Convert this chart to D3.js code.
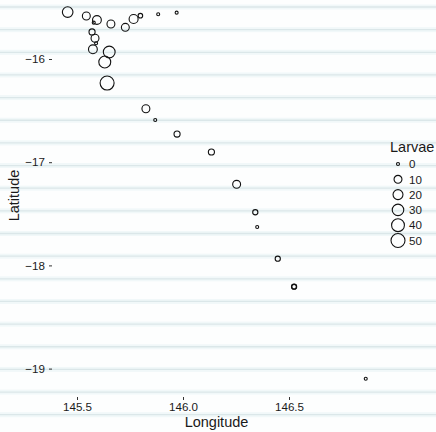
<!DOCTYPE html>
<html>
<head>
<meta charset="utf-8">
<script src="https://cdn.jsdelivr.net/npm/d3@7"></script>
<style>
  body { margin: 0; background: #fdfefe; }
  text { font-family: "Liberation Sans", Arial, sans-serif; }
</style>
</head>
<body>
<div id="chart"></div>
<script>
// station positions and larvae counts
const longitude = [145.456, 145.544, 145.594, 145.579, 145.660, 145.728, 145.767, 145.799, 145.883, 145.970,
                   145.571, 145.585, 145.590, 145.575, 145.652, 145.631, 145.642, 145.825, 145.869, 145.972,
                   146.134, 146.253, 146.341, 146.350, 146.447, 146.524, 146.524, 146.862];
const latitude  = [-15.545, -15.583, -15.622, -15.648, -15.661, -15.693, -15.612, -15.580, -15.567, -15.551,
                   -15.738, -15.799, -15.848, -15.906, -15.932, -16.029, -16.233, -16.482, -16.591, -16.727,
                   -16.901, -17.214, -17.485, -17.628, -17.935, -18.206, -18.206, -19.098];
const larvae    = [24, 10, 14, 0, 10, 10, 15, 1, 0, 0,
                   4, 10, 0, 14, 32, 33, 50, 10, 0, 4,
                   4, 10, 2, 0, 2, 2, 1, 0];

const xTicks = [145.5, 146.0, 146.5];
const yTicks = [-16, -17, -18, -19];
const legendValues = [0, 10, 20, 30, 40, 50];

const data = longitude.map((lon, i) => ({ lon, lat: latitude[i], n: larvae[i] }));

const width = 436, height = 432;
const ink = "#1a1a1a";
const svg = d3.select("#chart").append("svg")
    .attr("width", width)
    .attr("height", height);

// ---- notebook-like stripes over the whole picture ----
const stripes = d3.range(7, height, 22.65);
svg.selectAll(".band")
    .data(stripes)
    .join("rect")
    .attr("x", 0).attr("width", width)
    .attr("y", d => d - 2.5).attr("height", 5)
    .attr("fill", "#f1f8f9");
svg.selectAll(".stripe")
    .data(stripes)
    .join("line")
    .attr("x1", 0).attr("x2", width)
    .attr("y1", d => d).attr("y2", d => d)
    .attr("stroke", "#dbe7e9")
    .attr("stroke-width", 1.3);

// ---- scales ----
const panel = { left: 52, right: 381, top: -6, bottom: 397 };

const x = d3.scaleLinear()
    .domain([145.5, 146.5])
    .range([77, 289]);

const y = d3.scaleLinear()
    .domain([-16, -19])
    .range([59, 368.6]);

const r = d3.scaleSqrt()
    .domain([0, 50])
    .range([1.5, 7]);

// ---- axes ----
const yAxis = svg.append("g")
    .attr("transform", `translate(${panel.left},0)`)
    .call(d3.axisLeft(y).tickValues(yTicks).tickSize(3).tickPadding(4)
        .tickFormat(d => d3.format("d")(d).replace("-", "\u2212")));
yAxis.select(".domain").remove();
yAxis.selectAll("line").attr("stroke", "#333");
yAxis.selectAll("text").attr("font-size", 11.6).attr("fill", ink);

const xAxis = svg.append("g")
    .attr("transform", `translate(0,${panel.bottom})`)
    .call(d3.axisBottom(x).tickValues(xTicks).tickSize(3).tickPadding(3)
        .tickFormat(d3.format(".1f")));
xAxis.select(".domain").remove();
xAxis.selectAll("line").attr("stroke", "#333");
xAxis.selectAll("text").attr("font-size", 11.6).attr("fill", ink);

svg.append("text")
    .attr("x", (panel.left + panel.right) / 2)
    .attr("y", 427)
    .attr("text-anchor", "middle")
    .attr("font-size", 14.5)
    .attr("fill", ink)
    .text("Longitude");

svg.append("text")
    .attr("transform", `translate(18.5,${(panel.top + panel.bottom) / 2}) rotate(-90)`)
    .attr("text-anchor", "middle")
    .attr("font-size", 14.5)
    .attr("fill", ink)
    .text("Latitude");

// ---- points ----
svg.append("g")
    .selectAll("circle")
    .data(data)
    .join("circle")
    .attr("cx", d => x(d.lon))
    .attr("cy", d => y(d.lat))
    .attr("r", d => r(d.n))
    .attr("fill", "none")
    .attr("stroke", "#111")
    .attr("stroke-width", 1.1);

// ---- legend ----
const legend = svg.append("g")
    .attr("transform", "translate(390,152)");

legend.append("text")
    .attr("x", 0)
    .attr("y", 0)
    .attr("font-size", 14.5)
    .attr("fill", ink)
    .text("Larvae");

const item = legend.selectAll(".item")
    .data(legendValues)
    .join("g")
    .attr("transform", (d, i) => `translate(8,${12 + i * 15.3})`);

item.append("circle")
    .attr("r", d => r(d))
    .attr("fill", "none")
    .attr("stroke", "#111")
    .attr("stroke-width", 1.1);

item.append("text")
    .attr("x", 11)
    .attr("y", 4.2)
    .attr("font-size", 11.6)
    .attr("fill", ink)
    .text(d => d);
</script>
</body>
</html>
